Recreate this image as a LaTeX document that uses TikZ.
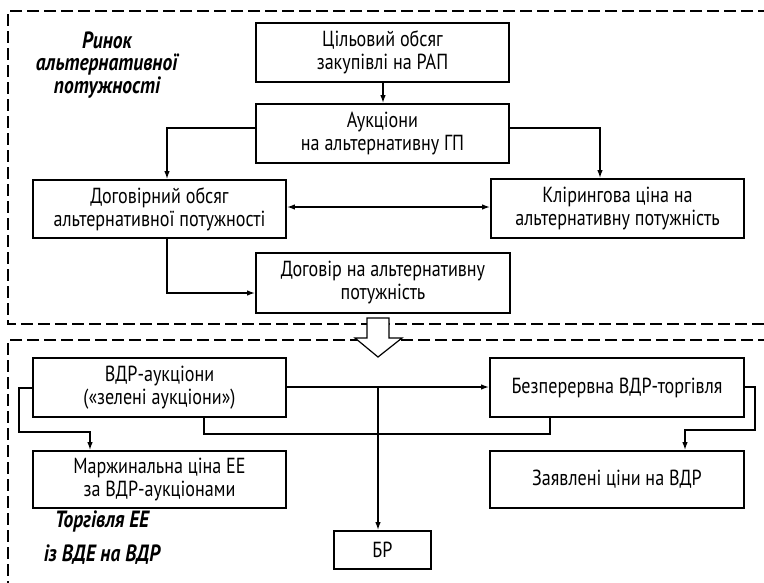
\documentclass[tikz,border=0pt]{standalone}
\usepackage{fontspec}
\setmainfont{PT Sans}[FakeStretch=0.83]
\usetikzlibrary{arrows.meta}
\tikzset{
  box/.style={draw, line width=1.8pt, inner sep=0pt, align=center, font=\fontsize{21.8}{23}\selectfont},
  arr/.style={line width=1.4pt, -{Latex[length=8pt,width=5.5pt]}},
  arrb/.style={line width=1.4pt, {Latex[length=8pt,width=5.5pt]}-{Latex[length=8pt,width=5.5pt]}},
  ln/.style={line width=1.4pt},
  frame/.style={line width=1.3pt, dash pattern=on 12pt off 5pt},
  lbl/.style={align=center, font=\fontsize{23.5}{22.5}\selectfont\bfseries\itshape}
}
\begin{document}
\begin{tikzpicture}[x=1pt,y=-1pt]
\useasboundingbox (0,0) rectangle (764,582);
% frames
\draw[frame] (770,11) -- (8,11) -- (8,324) -- (770,324);
\draw[frame] (770,340) -- (8,340) -- (8,590);
% top section
\node[box, minimum width=253pt, minimum height=59pt] (b1) at (382.5,52.5) {Цільовий обсяг\\закупівлі на РАП};
\node[box, minimum width=253pt, minimum height=59pt] (b2) at (382.5,133.5) {Аукціони\\на альтернативну ГП};
\node[box, minimum width=253pt, minimum height=58pt] (b3) at (159.5,209) {Договірний обсяг\\альтернативної потужності};
\node[box, minimum width=253pt, minimum height=59pt] (b4) at (617.5,208.5) {Клірингова ціна на\\альтернативну потужність};
\node[box, minimum width=254pt, minimum height=60pt] (b5) at (383,283) {Договір на альтернативну\\потужність};
\node[lbl] (l1) at (107,65) {Ринок\\альтернативної\\потужності};
\draw[arr] (b1.south -| 383,0) -- (b2.north -| 383,0);
\draw[arr] (b2.west |- 0,128) -| (b3.north -| 167,0);
\draw[arr] (b2.east |- 0,128) -| (b4.north -| 600,0);
\draw[arrb] (b3.east |- 0,207) -- (b4.west |- 0,207);
\draw[arr] (b3.south -| 167,0) |- (b5.west |- 0,293);
% block arrow
\draw[line width=1.2pt, fill=white] (367,318) -- (389,318) -- (389,338) -- (402,338) -- (378,357) -- (355,338) -- (367,338) -- cycle;
% bottom section
\node[box, minimum width=253pt, minimum height=59pt] (b6) at (159.5,387.5) {ВДР-аукціони\\(«зелені аукціони»)};
\node[box, minimum width=254pt, minimum height=59pt] (b7) at (617,387.5) {Безперервна ВДР-торгівля};
\node[box, minimum width=253pt, minimum height=57pt] (b8) at (159.5,479.5) {Маржинальна ціна ЕЕ\\за ВДР-аукціонами};
\node[box, minimum width=254pt, minimum height=57pt] (b9) at (617,479.5) {Заявлені ціни на ВДР};
\node[box, minimum width=97pt, minimum height=38pt] (b10) at (382.5,550) {БР};
\node[align=center, font=\fontsize{23.5}{34}\selectfont\bfseries\itshape] (l2) at (102,538) {Торгівля ЕЕ\\із ВДЕ на ВДР};
\coordinate (j) at (378,387);
\draw[arr] (b6.east |- j) -- (b7.west |- j);
\draw[arr] (j) -- (b10.north -| j);
\draw[ln] (b6.south -| 204,0) |- (550,434) -- (b7.south -| 550,0);
\draw[arr] (b6.west |- 0,388) -- (19,388) |- (90,432) -- (b8.north -| 90,0);
\draw[arr] (b7.east |- 0,387) -- (755,387) |- (685,430) -- (b9.north -| 685,0);
\end{tikzpicture}
\end{document}
